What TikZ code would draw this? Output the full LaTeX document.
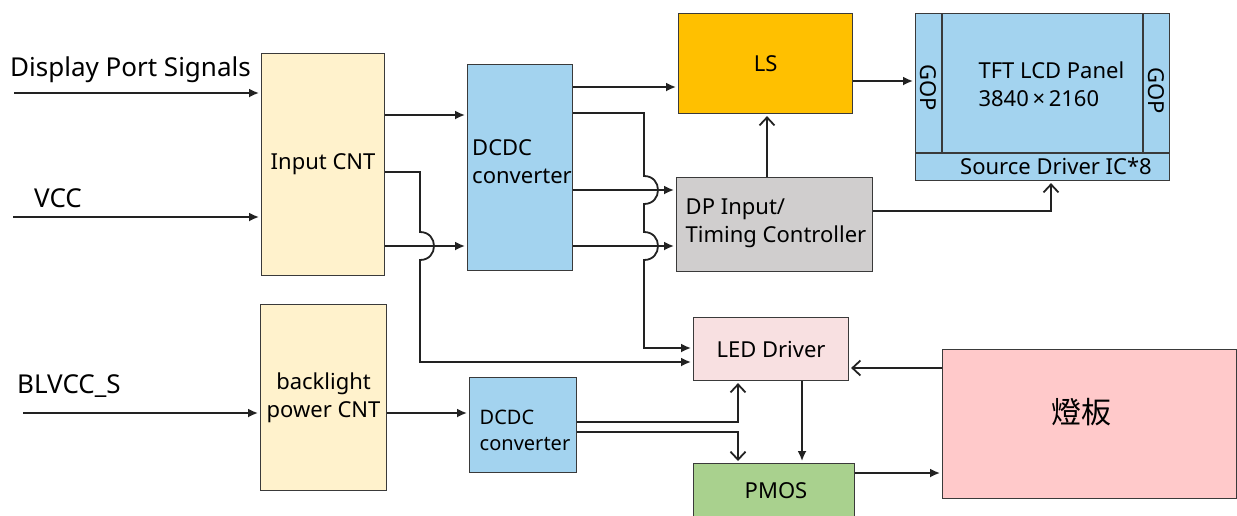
\documentclass[tikz,border=0pt]{standalone}
\usepackage{fontspec}
\setmainfont{Noto Sans}
\newfontfamily\cjk{Noto Sans CJK TC}
\usetikzlibrary{arrows.meta}
\definecolor{cYellow}{HTML}{FFF2CC}
\definecolor{cBlue}{HTML}{A3D3EF}
\definecolor{cLS}{HTML}{FFC000}
\definecolor{cGray}{HTML}{D0CECE}
\definecolor{cLed}{HTML}{F8E0E1}
\definecolor{cGreen}{HTML}{A9D18E}
\definecolor{cLamp}{HTML}{FFC9CA}
\definecolor{cLine}{HTML}{3A3A3A}
\definecolor{cWire}{HTML}{222222}
\tikzset{
  blk/.style={draw=cLine, line width=1.1pt, inner sep=0pt, anchor=north west, align=center},
  wire/.style={draw=cWire, line width=1.8pt, shorten >=2pt},
  fa/.style={wire, -{Latex[length=10pt,width=9pt]}},
  oa/.style={wire, -{Straight Barb[length=8pt,width=15pt]}},
  txt/.style={font=\fontsize{22}{28}\selectfont},
  big/.style={font=\fontsize{26}{30}\selectfont},
}
\begin{document}
\begin{tikzpicture}[x=1pt,y=-1pt]
\useasboundingbox (0,0) rectangle (1237,515);
\clip (0,0) rectangle (1237,515);
% ---------- boxes ----------
\node[blk, fill=cYellow, minimum width=123pt, minimum height=222pt, txt] (incnt) at (261,53) {Input CNT};
\node[blk, fill=cBlue, minimum width=105pt, minimum height=206pt] (dcdc1) at (467,64) {};
\node[txt, align=left] (dcdc1t) at (522,162) {DCDC\\converter};
\node[blk, fill=cLS, minimum width=174pt, minimum height=100pt, txt] (ls) at (678,13) {LS};
\node[blk, fill=cGray, minimum width=196pt, minimum height=94pt] (dp) at (676,177) {};
\node[txt, align=left] (dpt) at (776,223) {DP Input/\\Timing Controller};
\node[blk, fill=cBlue, minimum width=254pt, minimum height=167pt] (panel) at (915,13) {};
\draw[cLine, line width=1.1pt] (942,13) -- (942,153) (1143,13) -- (1143,153) (915,153) -- (1169,153);
\node[txt, align=left, anchor=west] (pnlt) at (975,84) {TFT LCD Panel\\3840\,×\,2160};
\node[txt, rotate=-90] (gopl) at (928.5,88) {GOP};
\node[txt, rotate=-90] (gopr) at (1156,91) {GOP};
\node[txt] (src) at (1056,166) {Source Driver IC*8};
\node[blk, fill=cYellow, minimum width=126pt, minimum height=186pt, txt] (bl) at (260,304) {backlight\\power CNT};
\node[blk, fill=cBlue, minimum width=107pt, minimum height=95pt] (dcdc2) at (469,377) {};
\node[txt, align=left, font=\fontsize{20}{26}\selectfont] (dcdc2t) at (525,430) {DCDC\\converter};
\node[blk, fill=cLed, minimum width=155pt, minimum height=63pt, txt] (led) at (693,317) {LED Driver};
\node[blk, fill=cGreen, minimum width=161pt, minimum height=70pt] (pmos) at (693,463) {};
\node[txt] (pmost) at (776,491) {PMOS};
\node[blk, fill=cLamp, minimum width=294pt, minimum height=149pt] (lamp) at (942,349) {};
\node[font=\cjk\fontsize{30}{34}\selectfont] (lampt) at (1081,412) {燈板};
% ---------- outside labels ----------
\node[big, anchor=base west, inner sep=0pt] (dpsl) at (10,76) {Display Port Signals};
\node[big, anchor=base west, inner sep=0pt] (vccl) at (34,207) {VCC};
\node[big, anchor=base west, inner sep=0pt] (blvl) at (17,393) {BLVCC\_S};
\coordinate (dpsIn) at (14,93);
\coordinate (vccIn) at (13,217);
\coordinate (blvIn) at (23,413);
% ---------- connectors ----------
\draw[fa] (dpsIn) -- (dpsIn -| incnt.west);
\draw[fa] (vccIn) -- (vccIn -| incnt.west);
\draw[fa] (blvIn) -- (blvIn -| bl.west);
\draw[fa] (incnt.east |- 0,115) -- (dcdc1.west |- 0,115);
\draw[fa] (incnt.east |- 0,246) -- (dcdc1.west |- 0,246);
\draw[fa] (incnt.east |- 0,172) -- (420,172) -- (420,232)
  .. controls +(18.7,0) and +(18.7,0) .. (420,260) -- (420,362) -- (led.west |- 0,362);
\draw[fa] (dcdc1.east |- 0,87) -- (ls.west |- 0,87);
\draw[fa] (dcdc1.east |- 0,113) -- (644,113) -- (644,176)
  .. controls +(18.7,0) and +(18.7,0) .. (644,204) -- (644,232)
  .. controls +(18.7,0) and +(18.7,0) .. (644,260) -- (644,348) -- (led.west |- 0,348);
\draw[fa] (dcdc1.east |- 0,190) -- (dp.west |- 0,190);
\draw[fa] (dcdc1.east |- 0,246) -- (dp.west |- 0,246);
\draw[fa] (ls.east |- 0,81) -- (panel.west |- 0,81);
\draw[oa] (dp.north -| 767,0) -- (ls.south -| 767,0);
\draw[oa] (dp.east |- 0,211) -- (1051,211) -- (1051,0 |- panel.south);
\draw[oa] (lamp.west |- 0,368) -- (led.east |- 0,368);
\draw[fa] (bl.east |- 0,413) -- (dcdc2.west |- 0,413);
\draw[oa] (dcdc2.east |- 0,422) -- (738,422) -- (738,0 |- led.south);
\draw[oa] (dcdc2.east |- 0,432) -- (738,432) -- (738,0 |- pmos.north);
\draw[fa] (led.south -| 802,0) -- (pmos.north -| 802,0);
\draw[fa] (pmos.east |- 0,473) -- (lamp.west |- 0,473);
\end{tikzpicture}
\end{document}
